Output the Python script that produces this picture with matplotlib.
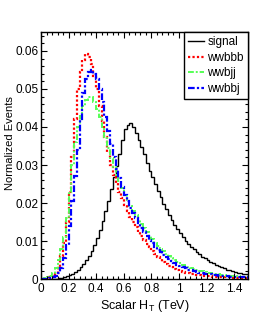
import numpy as np
import matplotlib.pyplot as plt
from matplotlib.ticker import MultipleLocator, FuncFormatter

plt.rcParams['font.family'] = ['Liberation Sans', 'DejaVu Sans']

# 75 bins of 0.02 TeV from 0 to 1.5
bin_edges = np.linspace(0.0, 1.5, 76)

signal = [
    0, 0, 0, 0, 0.0001, 0.0001, 0.0002, 0.0003, 0.0005, 0.0007,
    0.0010, 0.0014, 0.0019, 0.0025, 0.0032, 0.0040, 0.0050, 0.0061, 0.0075, 0.0090,
    0.0108, 0.0128, 0.0152, 0.0178, 0.0206, 0.0237, 0.0268, 0.0298, 0.0330, 0.0365,
    0.0395, 0.0405, 0.0410, 0.0400, 0.0385, 0.0365, 0.0348, 0.0330, 0.0305, 0.0285,
    0.0268, 0.0250, 0.0232, 0.0215, 0.0198, 0.0183, 0.0168, 0.0155, 0.0143, 0.0131,
    0.0120, 0.0110, 0.0101, 0.0093, 0.0085, 0.0078, 0.0071, 0.0065, 0.0059, 0.0054,
    0.0049, 0.0045, 0.0041, 0.0037, 0.0034, 0.0031, 0.0028, 0.0025, 0.0023, 0.0021,
    0.0019, 0.0017, 0.0015, 0.0014, 0.0013,
]

wwbbb = [
    0, 0.0001, 0.0002, 0.0004, 0.0008, 0.0015, 0.0030, 0.0060, 0.0095, 0.0150,
    0.0230, 0.0320, 0.0420, 0.0500, 0.0545, 0.0575, 0.0592, 0.0585, 0.0565, 0.0535,
    0.0500, 0.0455, 0.0415, 0.0375, 0.0335, 0.0300, 0.0275, 0.0252, 0.0230, 0.0212,
    0.0195, 0.0178, 0.0163, 0.0150, 0.0137, 0.0125, 0.0114, 0.0103, 0.0093, 0.0084,
    0.0075, 0.0067, 0.0059, 0.0052, 0.0046, 0.0040, 0.0035, 0.0031, 0.0027, 0.0024,
    0.0021, 0.0019, 0.0017, 0.0015, 0.0013, 0.0012, 0.0011, 0.0010, 0.0009, 0.0008,
    0.0007, 0.0007, 0.0006, 0.0006, 0.0005, 0.0005, 0.0004, 0.0004, 0.0004, 0.0003,
    0.0003, 0.0003, 0.0003, 0.0002, 0.0002,
]

wwbjj = [
    0.0001, 0.0002, 0.0004, 0.0008, 0.0015, 0.0028, 0.0050, 0.0080, 0.0110, 0.0160,
    0.0230, 0.0300, 0.0360, 0.0400, 0.0430, 0.0455, 0.0470, 0.0480, 0.0478, 0.0465,
    0.0448, 0.0425, 0.0400, 0.0370, 0.0345, 0.0318, 0.0295, 0.0275, 0.0257, 0.0240,
    0.0222, 0.0207, 0.0193, 0.0180, 0.0168, 0.0156, 0.0145, 0.0134, 0.0124, 0.0114,
    0.0105, 0.0096, 0.0088, 0.0080, 0.0073, 0.0066, 0.0060, 0.0055, 0.0050, 0.0045,
    0.0041, 0.0037, 0.0034, 0.0031, 0.0028, 0.0026, 0.0024, 0.0022, 0.0020, 0.0018,
    0.0017, 0.0015, 0.0014, 0.0013, 0.0012, 0.0011, 0.0010, 0.0009, 0.0009, 0.0008,
    0.0007, 0.0007, 0.0006, 0.0006, 0.0005,
]

wwbbj = [
    0, 0.0001, 0.0001, 0.0002, 0.0004, 0.0008, 0.0015, 0.0030, 0.0055, 0.0090,
    0.0140, 0.0205, 0.0270, 0.0340, 0.0420, 0.0490, 0.0525, 0.0545, 0.0550, 0.0540,
    0.0525, 0.0500, 0.0465, 0.0425, 0.0390, 0.0355, 0.0320, 0.0290, 0.0265, 0.0242,
    0.0222, 0.0204, 0.0188, 0.0173, 0.0160, 0.0147, 0.0135, 0.0124, 0.0113, 0.0103,
    0.0094, 0.0085, 0.0077, 0.0070, 0.0063, 0.0057, 0.0052, 0.0047, 0.0042, 0.0038,
    0.0034, 0.0031, 0.0028, 0.0025, 0.0023, 0.0021, 0.0019, 0.0017, 0.0015, 0.0014,
    0.0013, 0.0012, 0.0011, 0.0010, 0.0009, 0.0008, 0.0008, 0.0007, 0.0006, 0.0006,
    0.0005, 0.0005, 0.0005, 0.0004, 0.0004,
]


def main():
    fig = plt.figure(figsize=(2.76, 3.18), dpi=100)
    ax = fig.add_axes([0.1486, 0.1226, 0.75, 0.7768])

    # Histograms drawn as steps
    ax.stairs(signal, bin_edges, color='black', lw=1.0, label='signal')
    ax.stairs(wwbbb, bin_edges, color='#ff0000', lw=1.6, ls=(0, (1, 1)),
              label='wwbbb')
    ax.stairs(wwbjj, bin_edges, color='#55ff55', lw=1.4, ls=(0, (3, 1, 1, 1)),
              label='wwbjj')
    ax.stairs(wwbbj, bin_edges, color='#0000ff', lw=1.6, ls=(0, (3, 1, 1, 1)),
              label='wwbbj')

    ax.set_xlim(0, 1.5)
    ax.set_ylim(0, 0.065)

    # ROOT-like ticks on all four sides
    ax.xaxis.set_major_locator(MultipleLocator(0.2))
    ax.xaxis.set_minor_locator(MultipleLocator(0.04))
    ax.yaxis.set_major_locator(MultipleLocator(0.01))
    ax.yaxis.set_minor_locator(MultipleLocator(0.002))
    ax.tick_params(which='both', direction='in', top=True, right=True,
                   labelsize=8.5, width=0.8)
    ax.tick_params(which='major', length=4.5)
    ax.tick_params(which='minor', length=2.2)
    ax.tick_params(axis='y', pad=2)
    ax.tick_params(axis='x', pad=3)
    fmt = FuncFormatter(lambda v, _: '0' if abs(v) < 1e-9 else f'{v:g}')
    ax.xaxis.set_major_formatter(fmt)
    ax.yaxis.set_major_formatter(fmt)
    for s in ax.spines.values():
        s.set_linewidth(1.0)

    ax.set_xlabel(r'Scalar H$_\mathregular{T}$ (TeV)', fontsize=9, labelpad=2)
    ax.set_ylabel('Normalized Events', fontsize=8)
    ax.yaxis.set_label_coords(-0.125, 0.55)

    leg = ax.legend(loc='upper right', bbox_to_anchor=(1.0, 1.0),
                    fontsize=8.5, frameon=True, fancybox=False,
                    borderaxespad=0, handlelength=1.3, handletextpad=0.3,
                    borderpad=0.35, labelspacing=0.3)
    leg.get_frame().set_edgecolor('black')
    leg.get_frame().set_linewidth(1.0)
    leg.get_frame().set_alpha(1.0)

    fig.savefig('out.png', dpi=100)


if __name__ == '__main__':
    main()
